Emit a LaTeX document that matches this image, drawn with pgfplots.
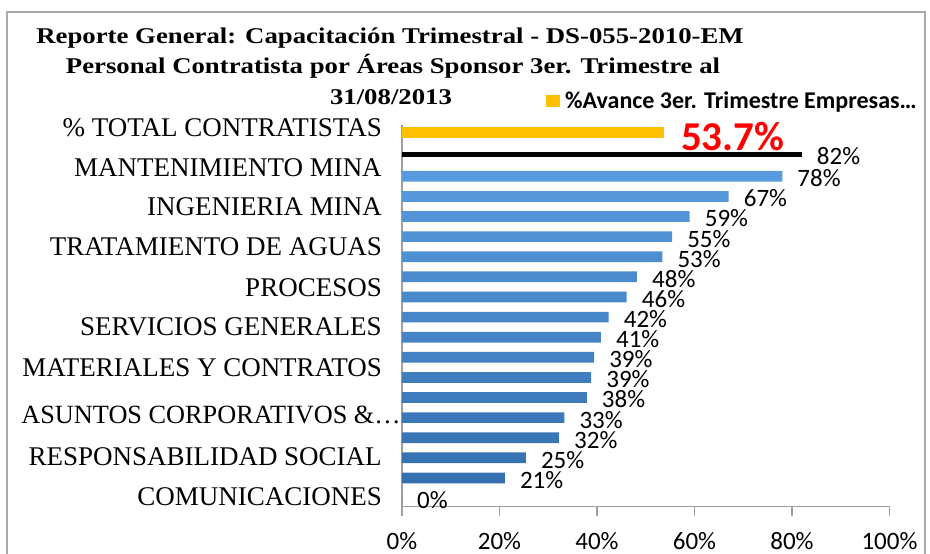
\documentclass[border=0pt]{standalone}
\usepackage{fontspec}
\setmainfont{Liberation Serif}
\newfontfamily\carlito{Carlito}
\usepackage{graphicx}
\usepackage{pgfplots}
\pgfplotsset{compat=1.18}
\definecolor{barY}{RGB}{255,192,0}
\definecolor{blueL}{RGB}{88,155,222}
\definecolor{blueD}{RGB}{50,108,172}
\definecolor{axgray}{RGB}{160,160,160}
\definecolor{framegray}{RGB}{170,170,170}
\begin{document}
\begin{tikzpicture}
\useasboundingbox (0pt,0pt) rectangle (930pt,-554pt);
\draw[framegray, line width=1.2pt] (7pt,-570pt) -- (7pt,-12pt) -- (925pt,-12pt) -- (925pt,-570pt);
% titles
\node[anchor=base, inner sep=0pt, font=\bfseries\fontsize{22.5}{26}\selectfont] at (390pt,-43.5pt) {\scalebox{1.19}[1]{Reporte General: Capacitación Trimestral - DS-055-2010-EM}};
\node[anchor=base, inner sep=0pt, font=\bfseries\fontsize{22.5}{26}\selectfont] at (393pt,-73.5pt) {\scalebox{1.19}[1]{Personal Contratista por Áreas Sponsor 3er. Trimestre al}};
\node[anchor=base, inner sep=0pt, font=\bfseries\fontsize{22.5}{26}\selectfont] at (391pt,-104.5pt) {\scalebox{1.19}[1]{31/08/2013}};
% legend
\fill[barY] (546pt,-95pt) rectangle (560pt,-107pt);
\node[anchor=base west, inner sep=0pt, font=\carlito\bfseries\fontsize{24}{26}\selectfont] at (565pt,-108pt) {\%Avance 3er. Trimestre Empresas…};
\begin{axis}[
  at={(402pt,-506.7pt)}, anchor=south west,
  scale only axis, width=487.5pt, height=382.2pt,
  xmin=0, xmax=100, ymin=-506.7, ymax=-124.5,
  clip=false,
  axis lines*=left,
  axis line style={axgray, line width=1.3pt},
  /pgf/number format/assume math mode=true,
  xtick={0,20,40,60,80,100},
  xticklabels={0\%,20\%,40\%,60\%,80\%,100\%},
  xtick align=outside,
  major tick length=9pt,
  xtick style={axgray, line width=1.2pt},
  xticklabel style={anchor=north, inner sep=0pt, yshift=-16.5pt, font=\carlito\fontsize{25}{26}\selectfont},
  ytick={-127.5,-168,-207,-247,-288,-327,-368,-415,-457,-497},
  yticklabels={{\% TOTAL CONTRATISTAS},{MANTENIMIENTO MINA},{INGENIERIA MINA},{TRATAMIENTO DE AGUAS},{PROCESOS},{SERVICIOS GENERALES},{MATERIALES Y CONTRATOS},{\fontsize{26.3}{28}\selectfont ASUNTOS CORPORATIVOS \&…\kern-19pt},{RESPONSABILIDAD SOCIAL},{COMUNICACIONES}},
  ytick style={draw=none},
  yticklabel style={anchor=east, inner sep=0pt, xshift=-20pt, font=\fontsize{27}{28}\selectfont},
  point meta=x,
  nodes near coords={\pgfmathprintnumber[fixed,precision=0]{\pgfplotspointmeta}\%},
  every node near coord/.append style={anchor=west, inner sep=0pt, xshift=15pt, yshift=-2pt, black, font=\carlito\fontsize{25}{26}\selectfont},
]
\addplot[xbar, bar shift=0pt, bar width=10.7pt, fill=barY, draw=none, nodes near coords={}] coordinates {(53.7,-132.3)};
\addplot[xbar, bar shift=0pt, bar width=4.7pt, fill=black, draw=none] coordinates {(82,-154.3)};
\addplot[xbar, bar shift=0pt, bar width=10.7pt, draw=none, top color=blueL, bottom color=blueD] coordinates {
(78,-176.3) (67,-196.4) (59,-216.5) (55.4,-236.6) (53.4,-256.7) (48.2,-276.8) (46.1,-296.9) (42.4,-317.1) (40.8,-337.2) (39.4,-357.3) (38.8,-377.4) (37.9,-397.5) (33.3,-417.6) (32.2,-437.7) (25.4,-457.8) (21.1,-477.9) (0,-498.0)};
\end{axis}
\node[anchor=base west, inner sep=0pt, text=red, font=\carlito\bfseries\fontsize{41}{44}\selectfont] at (681pt,-150pt) {53.7\%};
\end{tikzpicture}
\end{document}
